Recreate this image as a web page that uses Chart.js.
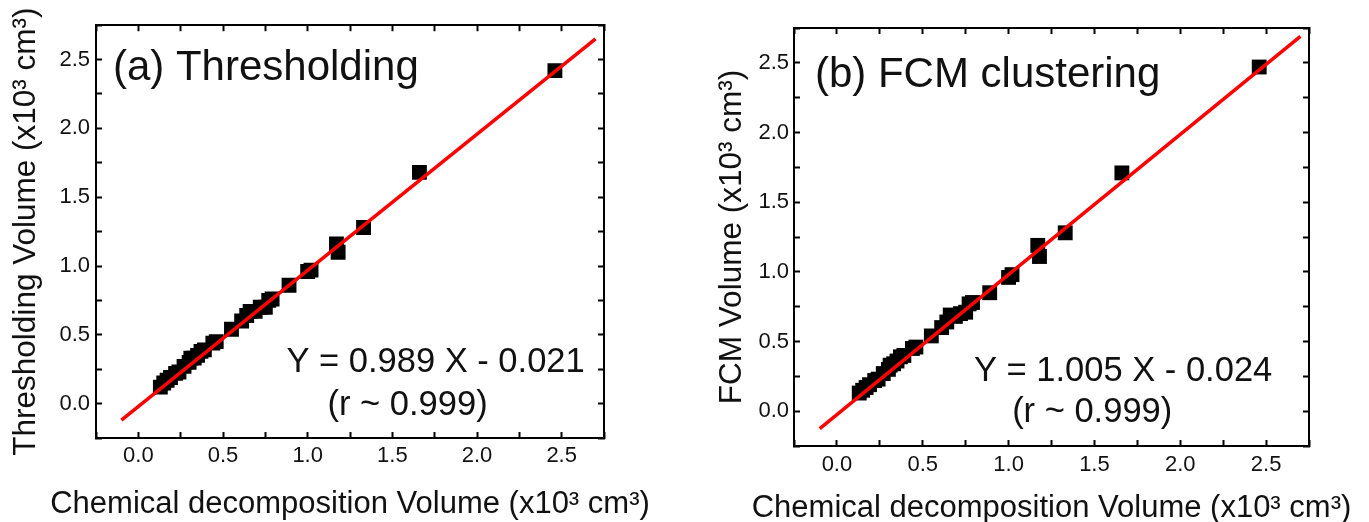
<!DOCTYPE html>
<html>
<head>
<meta charset="utf-8">
<script src="https://cdn.jsdelivr.net/npm/chart.js@4"></script>
<style>
  body { margin: 0; background: #fff; }
  .panel { position: absolute; top: 0; }
</style>
</head>
<body>
<div class="panel" style="left:0"><canvas id="chartA" width="684" height="522"></canvas></div>
<div class="panel" style="left:684px"><canvas id="chartB" width="685" height="522"></canvas></div>
<script>
// chemical decomposition volume (x10^3 cm^3), same specimens in both panels
const chemX = [0.13, 0.15, 0.17, 0.19, 0.22, 0.24, 0.27, 0.30, 0.31, 0.33, 0.35, 0.37, 0.39, 0.44, 0.46,
               0.55, 0.61, 0.64, 0.66, 0.69, 0.72, 0.75, 0.77, 0.79, 0.89, 1.00, 1.02, 1.17, 1.18, 1.33, 1.66, 2.46];
// (a) thresholding volume
const threshY = [0.12, 0.15, 0.17, 0.19, 0.22, 0.23, 0.27, 0.30, 0.33, 0.33, 0.35, 0.38, 0.39, 0.44, 0.45,
                 0.54, 0.60, 0.64, 0.67, 0.67, 0.70, 0.70, 0.75, 0.76, 0.86, 0.96, 0.97, 1.16, 1.10, 1.28, 1.68, 2.42];
// (b) FCM clustering volume
const fcmY = [0.13, 0.15, 0.17, 0.19, 0.22, 0.23, 0.27, 0.30, 0.33, 0.34, 0.36, 0.39, 0.40, 0.45, 0.46,
              0.54, 0.60, 0.64, 0.69, 0.68, 0.70, 0.71, 0.77, 0.78, 0.85, 0.96, 0.98, 1.19, 1.11, 1.28, 1.71, 2.47];

// fitted lines, end points
const fitX = [-0.10, 2.70];
const fitA = [-0.12, 2.65];
const fitB = [-0.125, 2.69];

const axisMin = -0.25;
const axisMax = 2.75;
const tickStep = 0.25;

const FONT = "'Liberation Sans', Arial, Helvetica, sans-serif";
Chart.defaults.font.family = FONT;
Chart.defaults.color = '#111';

function tickLabel(v) {
  const half = v * 2;
  if (Math.abs(half - Math.round(half)) < 1e-6 && v > -0.01 && v < 2.51) return v.toFixed(1);
  return '';
}

// free text: panel labels, fit equation, and the x axis title (wider than the plot box)
const notePlugin = {
  id: 'notes',
  afterDatasetsDraw(chart, args, opts) {
    const ctx = chart.ctx;
    const sx = chart.scales.x, sy = chart.scales.y;
    (opts.items || []).forEach(n => {
      ctx.save();
      ctx.font = n.size + 'px ' + FONT;
      ctx.fillStyle = '#111';
      ctx.textAlign = n.align;
      ctx.textBaseline = 'alphabetic';
      ctx.fillText(n.text, sx.getPixelForValue(n.x), sy.getPixelForValue(n.y));
      ctx.restore();
    });
    const t = opts.xTitle;
    if (t) {
      const ca = chart.chartArea;
      ctx.save();
      ctx.font = t.size + 'px ' + FONT;
      ctx.fillStyle = '#111';
      ctx.textAlign = 'center';
      ctx.textBaseline = 'alphabetic';
      ctx.fillText(t.text, (ca.left + ca.right) / 2, t.baseline);
      ctx.restore();
    }
  }
};

function sideAxis(position, size) {
  return {
    type: 'linear', position: position, min: axisMin, max: axisMax,
    ticks: { display: false, stepSize: tickStep },
    grid: { drawOnChartArea: false, tickLength: -6, tickWidth: 2, tickColor: '#000' },
    border: { display: true, color: '#000', width: 2 },
    afterFit: (s) => { if (position === 'top') s.height = size; else s.width = size; }
  };
}

function drawPanel(id, yVals, fitY, yTitle, notes, box) {
  const pts = chemX.map((x, i) => ({ x: x, y: yVals[i] }));
  const line = fitX.map((x, i) => ({ x: x, y: fitY[i] }));
  new Chart(document.getElementById(id), {
    type: 'scatter',
    data: {
      datasets: [
        { type: 'line', data: line, borderColor: '#ff0000', borderWidth: 3.5, pointRadius: 0, showLine: true, fill: false },
        { data: pts, pointStyle: 'rect', pointRadius: 10.5, pointHoverRadius: 10.5, backgroundColor: '#000', borderWidth: 0 }
      ]
    },
    plugins: [notePlugin],
    options: {
      responsive: false,
      animation: false,
      layout: { autoPadding: false, padding: 0 },
      plugins: {
        legend: { display: false },
        tooltip: { enabled: false },
        notes: {
          items: notes,
          xTitle: { text: 'Chemical decomposition Volume (x10³ cm³)', size: 31, baseline: box.xTitleBase }
        }
      },
      scales: {
        x: {
          type: 'linear', position: 'bottom', min: axisMin, max: axisMax,
          ticks: { stepSize: tickStep, callback: tickLabel, autoSkip: false, maxRotation: 0,
                   padding: box.xPad, font: { size: 22 }, color: '#111' },
          grid: { drawOnChartArea: false, tickLength: -6, tickWidth: 2, tickColor: '#000' },
          border: { display: true, color: '#000', width: 2 },
          afterFit: (s) => { s.height = box.bottom; }
        },
        y: {
          type: 'linear', position: 'left', min: axisMin, max: axisMax,
          ticks: { stepSize: tickStep, callback: tickLabel, autoSkip: false,
                   padding: box.yPad, font: { size: 22 }, color: '#111' },
          grid: { drawOnChartArea: false, tickLength: -6, tickWidth: 2, tickColor: '#000' },
          border: { display: true, color: '#000', width: 2 },
          title: { display: true, text: yTitle,
                   font: { size: 31.5, lineHeight: 1 }, color: '#111', padding: { top: box.yTitlePad, bottom: 0 } },
          afterFit: (s) => { s.width = box.left; }
        },
        x2: sideAxis('top', box.top),
        y2: sideAxis('right', box.right)
      }
    }
  });
}

drawPanel('chartA', threshY, fitA, 'Thresholding Volume (x10³ cm³)', [
  { text: '(a) Thresholding', x: -0.15, y: 2.35, size: 42, align: 'left' },
  { text: 'Y = 0.989 X - 0.021', x: 2.636, y: 0.23, size: 34.5, align: 'right' },
  { text: '(r ~ 0.999)', x: 1.59, y: -0.082, size: 34.5, align: 'center' }
], { left: 96, right: 80, top: 24, bottom: 84, xPad: 10.3, yPad: 12, xTitleBase: 513, yTitlePad: 10.25 });

drawPanel('chartB', fcmY, fitB, 'FCM Volume (x10³ cm³)', [
  { text: '(b) FCM clustering', x: -0.128, y: 2.33, size: 42, align: 'left' },
  { text: 'Y = 1.005 X - 0.024', x: 2.536, y: 0.22, size: 34.5, align: 'right' },
  { text: '(r ~ 0.999)', x: 1.487, y: -0.081, size: 34.5, align: 'center' }
], { left: 110, right: 60, top: 28, bottom: 76, xPad: 11.3, yPad: 11, xTitleBase: 517, yTitlePad: 32.75 });
</script>
</body>
</html>
